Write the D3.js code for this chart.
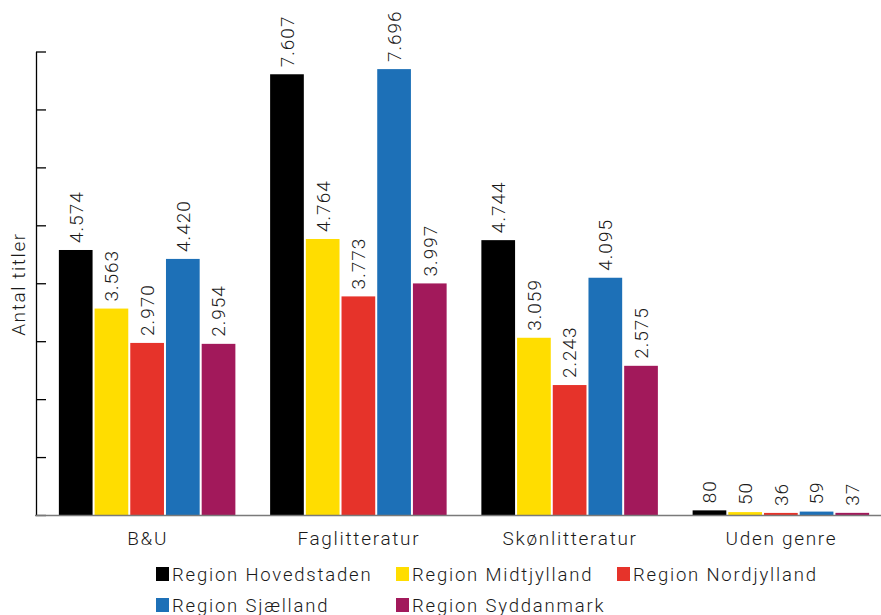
<!DOCTYPE html>
<html>
<head>
<meta charset="utf-8">
<script src="https://cdn.jsdelivr.net/npm/d3@7"></script>
<style>
  html, body { margin: 0; padding: 0; background: #fff; }
  svg { display: block; font-family: Roboto, "DejaVu Sans", sans-serif; font-weight: 300; }
</style>
</head>
<body>
<svg id="chart" width="881" height="615"></svg>
<script>
const categories = ["B&U", "Faglitteratur", "Skønlitteratur", "Uden genre"];
const seriesNames = ["Region Hovedstaden", "Region Midtjylland", "Region Nordjylland", "Region Sjælland", "Region Syddanmark"];
const hovedstaden = [4574, 7607, 4744, 80];
const midtjylland = [3563, 4764, 3059, 50];
const nordjylland = [2970, 3773, 2243, 36];
const sjaelland = [4420, 7696, 4095, 59];
const syddanmark = [2954, 3997, 2575, 37];
const colors = ["#000000", "#FFDD00", "#E6332A", "#1D70B7", "#A2195B"];
const yTicks = [0, 1000, 2000, 3000, 4000, 5000, 6000, 7000, 8000];

const seriesValues = [hovedstaden, midtjylland, nordjylland, sjaelland, syddanmark];
const fmt = v => d3.format(",")(v).replace(/,/g, ".");

const svg = d3.select("#chart");
const x0 = d3.scaleBand().domain(categories).range([42, 887]).paddingInner(0.155).paddingOuter(0.0775);
const x1 = d3.scaleBand().domain(seriesNames).range([0, x0.bandwidth()]);
const y = d3.scaleLinear().domain([0, 8000]).range([515, 51.5]);

// y axis (ticks pointing inward, no labels)
const yAxis = svg.append("g").attr("transform", "translate(36,0)")
  .call(d3.axisRight(y).tickValues(yTicks).tickSize(10).tickSizeOuter(0).tickFormat(""));
yAxis.selectAll("path, line").attr("stroke", "#000").attr("stroke-width", 1.3);

// bars
const groups = svg.append("g").selectAll("g").data(categories).join("g")
  .attr("transform", d => `translate(${x0(d)},0)`);
seriesNames.forEach((s, si) => {
  groups.append("rect")
    .attr("x", x1(s) + 0.5)
    .attr("width", x1.bandwidth() - 2)
    .attr("y", (d, ci) => y(seriesValues[si][ci]))
    .attr("height", (d, ci) => y(0) - y(seriesValues[si][ci]))
    .attr("fill", colors[si]);
  groups.append("text")
    .attr("transform", (d, ci) => `translate(${x1(s) + 0.5 + (x1.bandwidth() - 2) / 2},${y(seriesValues[si][ci]) - 7}) rotate(-90)`)
    .attr("dy", "0.36em")
    .attr("text-anchor", "start")
    .attr("font-size", 19)
    .attr("letter-spacing", 1)
    .attr("fill", "#1a1a1a")
    .text((d, ci) => fmt(seriesValues[si][ci]));
});

// x axis line
svg.append("line").attr("x1", 35).attr("x2", 881).attr("y1", 515.5).attr("y2", 515.5)
  .attr("stroke", "#7a7a7a").attr("stroke-width", 1.6);

// category labels
svg.append("g").selectAll("text").data(categories).join("text")
  .attr("x", d => x0(d) + x0.bandwidth() / 2)
  .attr("y", 545)
  .attr("text-anchor", "middle")
  .attr("font-size", 19)
  .attr("letter-spacing", 1.7)
  .attr("fill", "#1a1a1a")
  .text(d => d);

// y title
svg.append("text")
  .attr("transform", "translate(25,284) rotate(-90)")
  .attr("text-anchor", "middle")
  .attr("font-size", 19)
  .attr("letter-spacing", 1.6)
  .attr("fill", "#1a1a1a")
  .text("Antal titler");

// legend
const legendPos = [[156, 567], [396, 567], [617, 567], [156, 598], [396, 598]];
const leg = svg.append("g").selectAll("g").data(seriesNames).join("g")
  .attr("transform", (d, i) => `translate(${legendPos[i][0]},${legendPos[i][1]})`);
leg.append("rect").attr("width", 13).attr("height", 14).attr("fill", (d, i) => colors[i]);
leg.append("text").attr("x", 16).attr("y", 14).attr("font-size", 18.5).attr("letter-spacing", 1.8)
  .attr("fill", "#1a1a1a").text(d => d);
</script>
</body>
</html>
